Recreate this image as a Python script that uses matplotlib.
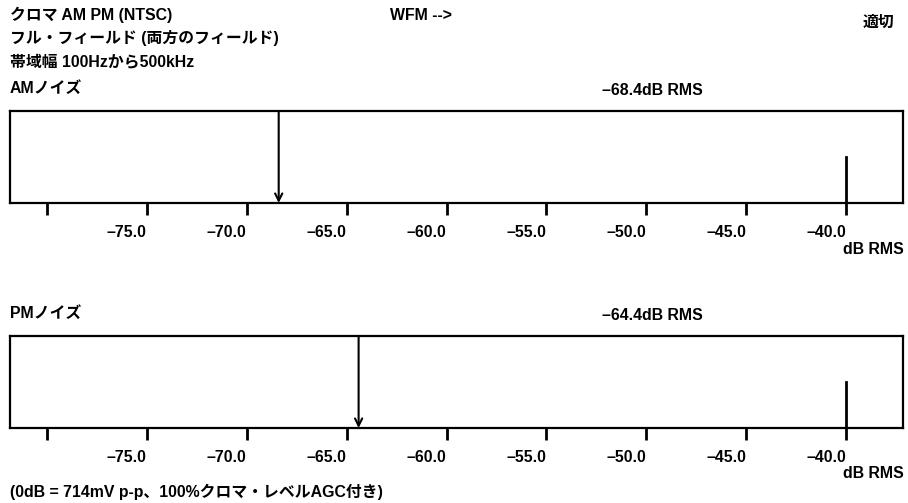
import matplotlib
matplotlib.use("Agg")
import matplotlib.pyplot as plt

plt.rcParams['font.family'] = ['Liberation Sans', 'Noto Sans CJK JP']
plt.rcParams['font.weight'] = 'bold'

# ---- data ----
panel_titles = ['AMノイズ', 'PMノイズ']
readings = [-68.4, -64.4]
reading_labels = ['–68.4dB RMS', '–64.4dB RMS']
limit_value = -40.0
tick_values = [-80, -75, -70, -65, -60, -55, -50, -45, -40]
tick_labels = ['', '–75.0', '–70.0', '–65.0', '–60.0', '–55.0', '–50.0', '–45.0', '–40.0']
x_range = (-81.85, -37.15)

header_lines = ['クロマ AM PM (NTSC)', 'フル・フィールド (両方のフィールド)', '帯域幅 100Hzから500kHz']
footnote = '(0dB = 714mV p-p、100%クロマ・レベルAGC付き)'

W, H = 908, 503
fig = plt.figure(figsize=(W / 100, H / 100), dpi=100)
fs = 11.4

def fx(px):
    return px / W

def fy(py):
    return 1 - py / H

# header
for i, line in enumerate(header_lines):
    fig.text(fx(10), fy(15 + i * 23.5), line, fontsize=fs, fontweight='bold', va='center', ha='left')
fig.text(fx(390), fy(15), 'WFM -->', fontsize=fs, fontweight='bold', va='center', ha='left')
fig.text(fx(894), fy(22), '適切', fontsize=fs, fontweight='bold', va='center', ha='right')

panel_tops = [111, 336]
box_h = 92
for k in range(2):
    top = panel_tops[k]
    ax = fig.add_axes([fx(10), fy(top + box_h), fx(903) - fx(10), box_h / H])
    ax.set_xlim(*x_range)
    ax.set_ylim(0, 1)
    ax.set_yticks([])
    for s in ax.spines.values():
        s.set_linewidth(1.6)
    ax.set_xticks(tick_values)
    ax.set_xticklabels(tick_labels, ha='right', fontsize=fs, fontweight='bold')
    ax.tick_params(axis='x', direction='out', length=8.5, width=2, pad=7)
    # reading arrow
    ax.annotate('', xy=(readings[k], 0.0), xytext=(readings[k], 1.0),
                xycoords=('data', 'axes fraction'), textcoords=('data', 'axes fraction'),
                arrowprops=dict(arrowstyle='->', lw=1.5, color='black',
                                shrinkA=0, shrinkB=0, mutation_scale=13))
    # limit marker
    ax.axvline(limit_value, ymin=0, ymax=0.5, color='black', lw=2)
    # titles
    fig.text(fx(10), fy(top - 23), panel_titles[k], fontsize=fs, fontweight='bold', va='center', ha='left')
    fig.text(fx(652), fy(top - 21), reading_labels[k], fontsize=fs, fontweight='bold', va='center', ha='center')
    fig.text(fx(904), fy(top + box_h + 46), 'dB RMS', fontsize=fs, fontweight='bold', va='center', ha='right')

fig.text(fx(10), fy(492), footnote, fontsize=fs, fontweight='bold', va='center', ha='left')

fig.savefig('out.png', dpi=100, facecolor='white')
